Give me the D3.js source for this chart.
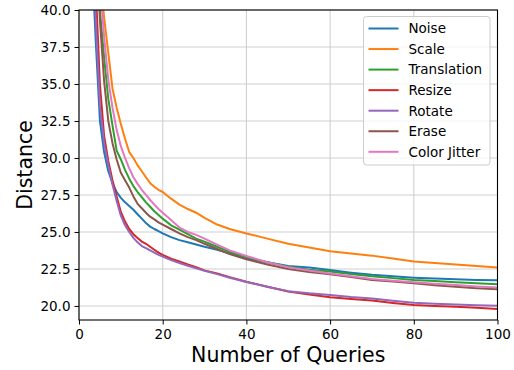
<!DOCTYPE html>
<html>
<head>
<meta charset="utf-8">
<script src="https://cdn.jsdelivr.net/npm/d3@7"></script>
<style>
  body { margin: 0; background: #fff; }
  svg text { font-family: "DejaVu Sans", sans-serif; fill: #000; }
</style>
</head>
<body>
<div id="chart"></div>
<script>
// query counts shared by every series
var queries = [3, 4, 5, 6, 7, 8, 9, 10, 11, 12, 13, 14, 15, 16, 17, 18, 19, 20,
               22, 24, 26, 28, 30, 33, 36, 40, 45, 50, 55, 60, 65, 70, 75, 80, 85, 90, 95, 100];

var noise = [44, 37.9, 32.5, 30.4, 29.1, 28.3, 27.7, 27.3, 27.0, 26.75, 26.5, 26.2, 25.9, 25.6, 25.36, 25.2, 25.05, 24.9,
             24.65, 24.45, 24.3, 24.15, 24.0, 23.8, 23.55, 23.2, 22.95, 22.7, 22.6, 22.43, 22.25, 22.1, 22.0, 21.91, 21.85, 21.8, 21.76, 21.73];
var scale = [52, 47, 42.5, 39.5, 37.1, 34.7, 33.4, 32.3, 31.3, 30.4, 30.0, 29.5, 29.1, 28.7, 28.3, 28.05, 27.85, 27.7,
             27.25, 26.85, 26.55, 26.3, 25.95, 25.5, 25.2, 24.9, 24.55, 24.2, 23.95, 23.7, 23.55, 23.4, 23.2, 23.0, 22.9, 22.8, 22.7, 22.6];
var translation = [52, 45, 40, 36.8, 34.0, 32.2, 30.5, 29.9, 29.2, 28.6, 28.1, 27.7, 27.35, 27.0, 26.7, 26.4, 26.15, 25.9,
                   25.45, 25.15, 24.85, 24.55, 24.35, 24.0, 23.65, 23.3, 22.95, 22.65, 22.45, 22.32, 22.15, 22.0, 21.88, 21.76, 21.68, 21.6, 21.53, 21.47];
var resize = [50, 41.5, 35, 31.5, 29.8, 28.5, 27.4, 26.35, 25.7, 25.2, 24.85, 24.6, 24.35, 24.2, 24.0, 23.8, 23.6, 23.45,
              23.2, 23.0, 22.8, 22.62, 22.4, 22.2, 21.95, 21.64, 21.3, 20.97, 20.78, 20.59, 20.47, 20.36, 20.2, 20.07, 20.0, 19.95, 19.88, 19.8];
var rotate = [48, 39.3, 33.5, 31.0, 29.5, 28.2, 27.1, 26.1, 25.45, 25.0, 24.6, 24.3, 24.05, 23.9, 23.75, 23.6, 23.45, 23.33,
              23.1, 22.9, 22.72, 22.55, 22.38, 22.15, 21.9, 21.62, 21.3, 21.0, 20.85, 20.74, 20.6, 20.5, 20.35, 20.22, 20.15, 20.1, 20.05, 20.02];
var erase = [54, 45, 39.3, 35.2, 32.5, 31.0, 29.9, 29.0, 28.5, 28.0, 27.4, 26.9, 26.6, 26.3, 26.03, 25.85, 25.65, 25.5,
             25.2, 24.9, 24.65, 24.45, 24.2, 23.85, 23.5, 23.15, 22.8, 22.5, 22.3, 22.14, 21.95, 21.76, 21.65, 21.53, 21.4, 21.3, 21.2, 21.13];
var colorJitter = [56, 47, 41.8, 38.2, 35.3, 33.4, 31.9, 30.8, 30.0, 29.3, 28.7, 28.25, 27.85, 27.5, 27.16, 26.85, 26.55, 26.3,
                   25.8, 25.3, 25.0, 24.8, 24.55, 24.15, 23.75, 23.38, 22.95, 22.62, 22.4, 22.2, 22.0, 21.82, 21.7, 21.6, 21.5, 21.42, 21.32, 21.24];

var seriesNames = ["Noise", "Scale", "Translation", "Resize", "Rotate", "Erase", "Color Jitter"];
var seriesValues = [noise, scale, translation, resize, rotate, erase, colorJitter];
var colours = ["#1f77b4", "#ff7f0e", "#2ca02c", "#d62728", "#9467bd", "#8c564b", "#e377c2"];

var xTicks = [0, 20, 40, 60, 80, 100];
var yTicks = [20, 22.5, 25, 27.5, 30, 32.5, 35, 37.5, 40];

var width = 514, height = 370;
var margin = {top: 10, right: 16.5, bottom: 50, left: 79};
var plotW = width - margin.left - margin.right;
var plotH = height - margin.top - margin.bottom;

var x = d3.scaleLinear().domain([0, 100]).range([0, plotW]);
var y = d3.scaleLinear().domain([19.05, 40]).range([plotH, 0]);

var svg = d3.select("#chart").append("svg")
    .attr("width", width)
    .attr("height", height);

var g = svg.append("g")
    .attr("transform", "translate(" + margin.left + "," + margin.top + ")");

g.append("clipPath").attr("id", "plot-clip")
  .append("rect")
    .attr("width", plotW)
    .attr("height", plotH);

// grid
g.append("g")
    .selectAll("line.vgrid")
    .data(xTicks)
    .enter().append("line")
    .attr("x1", function(d) { return x(d); })
    .attr("x2", function(d) { return x(d); })
    .attr("y1", 0).attr("y2", plotH)
    .style("stroke", "#d0d0d0").style("stroke-width", 1.1);
g.append("g")
    .selectAll("line.hgrid")
    .data(yTicks)
    .enter().append("line")
    .attr("y1", function(d) { return y(d); })
    .attr("y2", function(d) { return y(d); })
    .attr("x1", 0).attr("x2", plotW)
    .style("stroke", "#d0d0d0").style("stroke-width", 1.1);

// lines
var line = d3.line()
    .x(function(d) { return x(d[0]); })
    .y(function(d) { return y(d[1]); });

var lines_g = g.append("g").attr("clip-path", "url(#plot-clip)");
seriesValues.forEach(function(vals, i) {
    lines_g.append("path")
        .datum(queries.map(function(q, j) { return [q, vals[j]]; }))
        .attr("d", line)
        .style("fill", "none")
        .style("stroke", colours[i])
        .style("stroke-width", 2)
        .style("stroke-linejoin", "round");
});

// axes
var xAxis = g.append("g")
    .attr("transform", "translate(0," + plotH + ")")
    .call(d3.axisBottom(x).tickValues(xTicks).tickSize(4.5).tickPadding(5).tickFormat(d3.format("d")));
var yAxis = g.append("g")
    .call(d3.axisLeft(y).tickValues(yTicks).tickSize(4.5).tickPadding(4).tickFormat(d3.format(".1f")));

[xAxis, yAxis].forEach(function(a) {
    a.select(".domain").remove();
    a.selectAll(".tick line").style("stroke", "#000").style("stroke-width", 1);
    a.selectAll(".tick text")
        .style("font-family", "DejaVu Sans")
        .style("font-size", "13.5px")
        .style("fill", "#000");
});

// frame
g.append("rect")
    .attr("width", plotW)
    .attr("height", plotH)
    .style("fill", "none")
    .style("stroke", "#000")
    .style("stroke-width", 1.1);

// axis titles
svg.append("text")
    .attr("x", margin.left + plotW / 2)
    .attr("y", 362)
    .attr("text-anchor", "middle")
    .style("font-size", "20.5px")
    .text("Number of Queries");

svg.append("text")
    .attr("transform", "translate(32," + (margin.top + plotH / 2) + ") rotate(-90)")
    .attr("text-anchor", "middle")
    .style("font-size", "20.5px")
    .text("Distance");

// legend
var legend_g = svg.append("g").attr("transform", "translate(363.5,16.5)");
legend_g.append("rect")
    .attr("width", 126.5)
    .attr("height", 148.5)
    .attr("rx", 3).attr("ry", 3)
    .style("fill", "rgba(255,255,255,0.8)")
    .style("stroke", "#cccccc")
    .style("stroke-width", 1);

var legend = legend_g.selectAll(".legend")
    .data(seriesNames)
    .enter().append("g")
    .attr("class", "legend")
    .attr("transform", function(d, i) { return "translate(0," + (12 + i * 20.55) + ")"; });
legend.append("line")
    .attr("x1", 5).attr("x2", 35)
    .style("stroke", function(d, i) { return colours[i]; })
    .style("stroke-width", 2);
legend.append("text")
    .attr("x", 45)
    .attr("dy", "0.36em")
    .style("font-size", "13.5px")
    .text(function(d) { return d; });
</script>
</body>
</html>
